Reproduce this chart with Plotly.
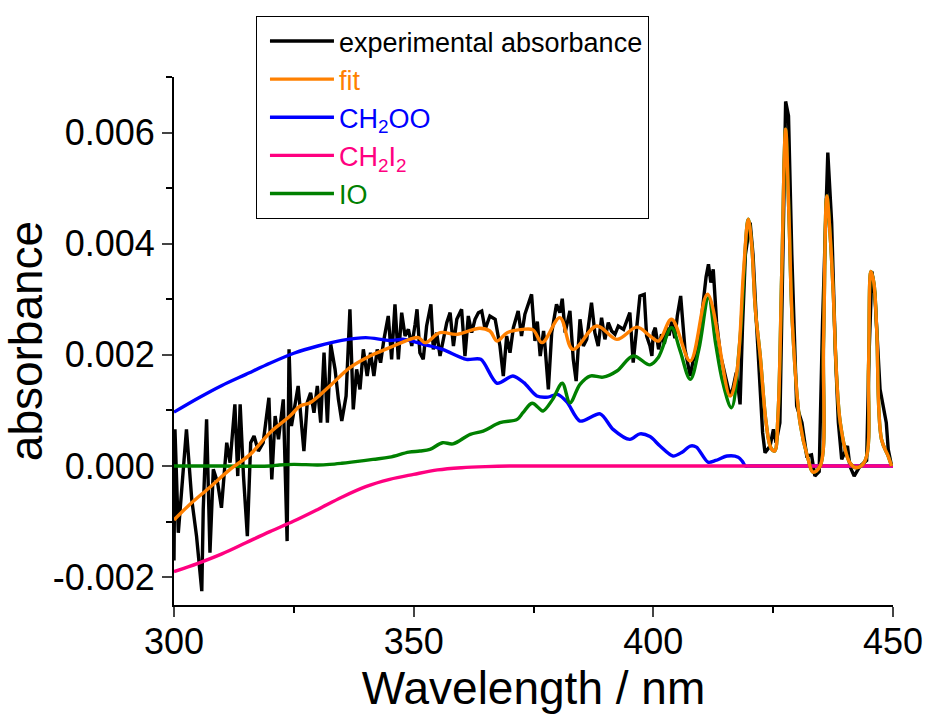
import plotly.graph_objects as go

# ---------------- data ----------------
exp_wl = [300.0, 300.2, 300.9, 302.6, 303.7, 304.7, 305.8, 306.1, 306.8, 307.5, 308.2, 309.1, 309.9,
          311.0, 311.7, 312.7, 313.3, 313.8, 314.5, 315.3, 316.0, 316.7, 317.6, 318.6, 319.8, 320.4,
          321.1, 321.8, 322.8, 323.6, 324.0, 324.5, 325.2, 325.9, 327.1, 327.8, 328.5, 329.2, 329.9,
          330.6, 331.3, 332.0, 332.7, 333.6, 334.3, 335.0, 335.9, 336.7, 337.4, 338.1, 338.8, 339.5,
          340.3, 341.0, 341.7, 342.4, 343.1, 343.8, 344.7, 345.4, 346.1, 346.8, 347.5, 348.2, 348.9,
          349.6, 350.3, 350.7, 351.3, 352.0, 352.7, 353.6, 354.1, 354.8, 355.5, 356.2, 356.9, 357.6,
          358.3, 359.0, 360.0, 360.7, 361.4, 362.1, 362.8, 363.5, 364.2, 364.9, 365.9, 367.0, 368.0,
          368.7, 369.4, 370.1, 370.8, 371.8, 372.5, 373.2, 374.6, 375.3, 375.8, 376.4, 377.1, 377.4,
          378.1, 378.8, 379.8, 380.5, 381.0, 381.6, 382.6, 383.3, 383.9, 384.7, 385.4, 386.1, 387.1,
          387.8, 388.5, 389.2, 389.9, 390.6, 391.3, 392.0, 392.7, 393.8, 394.5, 395.1, 395.8, 396.5,
          397.2, 398.1, 398.6, 399.3, 399.7, 400.0, 400.4, 401.1, 401.7, 402.3, 402.8, 403.3, 403.8,
          404.5, 405.0, 405.7, 406.6, 407.7, 408.3, 409.0, 409.7, 410.4, 411.0, 411.5, 412.0, 412.5,
          413.2, 414.0, 414.7, 415.3, 416.0, 416.6, 417.3, 417.7, 418.1, 418.6, 419.2, 420.2, 420.8,
          421.5, 422.3, 422.8, 423.3, 423.9, 424.35, 425.05, 425.6, 426.4, 427.0, 427.6, 428.2, 428.9,
          429.9, 431.0, 432.0, 433.0, 433.7, 434.6, 435.3, 436.4, 437.2, 438.0, 438.6, 439.3, 440.5,
          441.0, 441.9, 443.1, 444.5, 445.0, 445.6, 446.2, 447.3, 448.6, 449.0, 449.7]
exp_abs = [-0.0017, 0.00066, -0.0012, 0.00066, -0.0006, -0.00126, -0.00225, -0.00078, 0.00084, -0.00156,
           -0.00006, -0.0003, -0.00075, 0.00042, 0.00006, 0.00111, -0.00018, 0.00111, -0.00018, -0.00126,
           0.00042, 0.00054, 0.00027, 0.00042, 0.00123, -0.00024, 0.0009, 0.00048, 0.0012, -0.00135,
           0.0021, 0.00072, 0.00108, 0.00144, 0.00027, 0.00114, 0.00132, 0.00096, 0.00144, 0.00078,
           0.00204, 0.00078, 0.00219, 0.00174, 0.0012, 0.00081, 0.00126, 0.00282, 0.00102, 0.00174,
           0.00138, 0.0021, 0.00162, 0.00204, 0.00162, 0.0021, 0.00186, 0.00228, 0.0027, 0.00192,
           0.00291, 0.00192, 0.00276, 0.00234, 0.00246, 0.00216, 0.00255, 0.00282, 0.00204, 0.00192,
           0.00252, 0.00291, 0.0021, 0.0024, 0.00198, 0.00228, 0.00258, 0.00276, 0.00216, 0.00264,
           0.00282, 0.00198, 0.0027, 0.0024, 0.00264, 0.00276, 0.00279, 0.00246, 0.0027, 0.00264,
           0.00216, 0.00162, 0.00234, 0.00204, 0.00249, 0.00279, 0.00234, 0.00273, 0.00309, 0.00225,
           0.0026, 0.00198, 0.00243, 0.00216, 0.00138, 0.0024, 0.00291, 0.00276, 0.00301, 0.0024,
           0.00279, 0.00192, 0.00153, 0.00264, 0.00216, 0.00228, 0.00294, 0.0024, 0.00216, 0.00267,
           0.00228, 0.00258, 0.00243, 0.00237, 0.00252, 0.00246, 0.00261, 0.00276, 0.00186, 0.00252,
           0.00306, 0.00309, 0.00234, 0.00216, 0.00198, 0.0024, 0.00249, 0.0021, 0.00237, 0.0022,
           0.0025, 0.00235, 0.0026, 0.0023, 0.0027, 0.00306, 0.0021, 0.00162, 0.0019, 0.00198,
           0.0024, 0.00294, 0.0034, 0.00363, 0.0033, 0.00354, 0.00258, 0.002, 0.00174, 0.0015,
           0.00126, 0.0014, 0.00168, 0.0014, 0.00111, 0.0025, 0.0038, 0.00438, 0.0038, 0.0026,
           0.00138, 0.0006, 0.00024, 0.0003, 0.00036, 0.00066, 0.00042, 0.00078, 0.00378, 0.00656,
           0.0063, 0.00378, 0.00108, 0.00078, 0.00018, 0.0002, -0.00018, -0.0001, 0.00258, 0.00564,
           0.00438, 0.002, 0.00078, 0.00012, 0.00036, 0.0, -0.00018, 0.0, 0.0001, 0.002,
           0.0035, 0.0031, 0.00138, 0.00078, 0.0003, 0.0]

fit_wl = [300.0, 303.3, 307.5, 311.7, 315.9, 320.0, 324.2, 326.3, 328.4, 332.5, 336.7, 340.9, 345.0,
          349.2, 351.0, 352.4, 355.5, 359.0, 363.8, 365.9, 367.4, 369.5, 372.8, 374.9, 376.8, 380.5,
          383.2, 388.2, 392.4, 396.6, 399.3, 401.1, 403.8, 407.7, 411.3, 416.0, 417.4, 418.8, 419.8,
          420.5, 421.3, 422.3, 423.5, 424.5, 425.3, 426.0, 426.8, 427.6, 428.3, 429.0, 430.6, 432.3,
          433.3, 434.8, 435.5, 436.2, 437.0, 437.5, 439.0, 441.0, 442.4, 444.2, 444.9, 445.4, 446.0,
          446.6, 447.6, 449.0, 449.7]
fit_abs = [-0.00097, -0.00069, -0.00038, -0.00006, 0.00021, 0.0006, 0.0009, 0.00108, 0.00114, 0.00144,
           0.00177, 0.00198, 0.00213, 0.00228, 0.00231, 0.00222, 0.0024, 0.00237, 0.00248, 0.00243,
           0.00225, 0.0024, 0.00246, 0.00245, 0.00222, 0.00267, 0.0021, 0.00252, 0.00228, 0.0025,
           0.00234, 0.00225, 0.00264, 0.00189, 0.00309, 0.00126, 0.00168, 0.00348, 0.00444, 0.004,
           0.0028, 0.00198, 0.0008, 0.00033, 0.00027, 0.0009, 0.0035, 0.00606, 0.0045, 0.00258,
           0.00078, 0.00012, -0.00011, 0.0, 0.0022, 0.00486, 0.004, 0.00318, 0.00078, 0.00006,
           -0.00003, 0.0001, 0.0018, 0.0035, 0.0033, 0.00246, 0.00048, 0.00018, 0.0]

ch2oo_wl = [300.0, 305.0, 310.0, 315.0, 320.0, 325.0, 330.0, 335.0, 340.0, 345.0, 348.0, 352.0, 356.0,
            361.0, 364.0, 367.4, 370.7, 373.0, 375.7, 378.0, 380.0, 382.0, 384.7, 388.9, 391.6, 395.1,
            397.2, 399.3, 401.4, 404.1, 406.0, 407.7, 409.0, 411.4, 413.0, 415.4, 417.7, 418.6, 419.2,
            420.0, 425.0, 430.0, 435.0, 440.0, 445.0, 450.0]
ch2oo_abs = [0.00097, 0.00122, 0.00145, 0.00165, 0.00185, 0.00203, 0.00216, 0.00226, 0.00231, 0.00226,
             0.00228, 0.00219, 0.0021, 0.00192, 0.00192, 0.00149, 0.00162, 0.0015, 0.00126, 0.00124,
             0.00129, 0.00115, 0.00081, 0.00094, 0.00066, 0.00048, 0.00058, 0.00053, 0.00036, 0.00018,
             0.00025, 0.00036, 0.00034, 0.00007, 0.0001, 0.00018, 0.00016, 0.00008, 0.0,
             0.0, 0.0, 0.0, 0.0, 0.0, 0.0, 0.0]

ch2i2_wl = [300.0, 305.0, 310.0, 315.0, 320.0, 325.0, 330.0, 335.0, 340.0, 345.0, 350.0, 355.0, 360.0,
            365.0, 370.0, 380.0, 390.0, 400.0, 410.0, 420.0, 430.0, 440.0, 450.0]
ch2i2_abs = [-0.0019, -0.00175, -0.00158, -0.00138, -0.00118, -0.00099, -0.00078, -0.00056, -0.00037,
             -0.00024, -0.00015, -0.00007, -0.00003, -0.00001, 0.0, 0.0, 0.0, 0.0, 0.0, 0.0, 0.0, 0.0, 0.0]

io_wl = [300.0, 310.0, 320.0, 322.0, 325.0, 330.0, 332.5, 335.0, 337.0, 341.5, 345.0, 349.0, 351.3,
         353.4, 356.0, 358.2, 361.8, 364.5, 368.0, 371.6, 372.8, 374.7, 376.4, 377.0, 379.0, 381.0,
         382.6, 384.7, 386.8, 389.5, 392.4, 395.8, 399.3, 401.0, 403.8, 405.5, 407.7, 409.5, 411.5,
         413.0, 414.5, 416.3, 418.0, 419.8, 420.5, 421.3, 422.3, 423.5, 424.5, 425.3, 426.0, 426.8,
         427.6, 428.3, 429.0, 430.6, 432.3, 433.3, 434.8, 435.5, 436.2, 437.0, 437.5, 439.0, 441.0,
         442.4, 444.2, 444.9, 445.4, 446.0, 446.6, 447.6, 449.0, 449.7]
io_abs = [0.0, 0.0, 0.0, 0.00002, 0.00003, 0.00002, 0.00003, 0.00005, 0.00007, 0.00012, 0.00016,
          0.00025, 0.00027, 0.0003, 0.00042, 0.0004, 0.00057, 0.00063, 0.00078, 0.00084, 0.00096,
          0.00113, 0.00102, 0.00099, 0.0012, 0.00149, 0.00114, 0.00147, 0.00162, 0.0016, 0.00171,
          0.00198, 0.00182, 0.00195, 0.00249, 0.0021, 0.00156, 0.0021, 0.00303, 0.0022, 0.0015,
          0.00105, 0.0022, 0.00444, 0.004, 0.0028, 0.00198, 0.0008, 0.00033, 0.00027, 0.0009,
          0.0035, 0.00606, 0.0045, 0.00258, 0.00078, 0.00012, -0.00011, 0.0, 0.0022, 0.00486,
          0.004, 0.00318, 0.00078, 0.00006, -0.00003, 0.0001, 0.0018, 0.0035, 0.0033, 0.00246,
          0.00048, 0.00018, 0.0]

x_ticks = [300, 350, 400, 450]
y_ticks = [-0.002, 0.0, 0.002, 0.004, 0.006]
y_tick_text = ["-0.002", "0.000", "0.002", "0.004", "0.006"]

# ---------------- figure ----------------
FONT = "Liberation Sans, Arial, sans-serif"
C_EXP, C_FIT, C_CH2OO, C_CH2I2, C_IO = "#000000", "#FF8000", "#0000FF", "#FF0080", "#008000"
LW = 3.4

fig = go.Figure()
fig.add_trace(go.Scatter(x=exp_wl, y=exp_abs, mode="lines", name="experimental absorbance",
                         line=dict(color=C_EXP, width=LW), legendrank=1))
fig.add_trace(go.Scatter(x=ch2oo_wl, y=ch2oo_abs, mode="lines", line_shape="spline",
                         line_smoothing=0.8,
                         name=f'<span style="color:{C_CH2OO}">CH<sub>2</sub>OO</span>',
                         line=dict(color=C_CH2OO, width=LW), legendrank=3))
fig.add_trace(go.Scatter(x=ch2i2_wl, y=ch2i2_abs, mode="lines", line_shape="spline",
                         name=f'<span style="color:{C_CH2I2}">CH<sub>2</sub>I<sub>2</sub></span>',
                         line=dict(color=C_CH2I2, width=LW), legendrank=4))
fig.add_trace(go.Scatter(x=io_wl, y=io_abs, mode="lines", line_shape="spline",
                         name=f'<span style="color:{C_IO}">IO</span>',
                         line=dict(color=C_IO, width=LW), legendrank=5))
fig.add_trace(go.Scatter(x=fit_wl, y=fit_abs, mode="lines", line_shape="spline",
                         name=f'<span style="color:{C_FIT}">fit</span>',
                         line=dict(color=C_FIT, width=LW), legendrank=2))

fig.update_layout(
    width=925, height=727, autosize=False,
    margin=dict(l=174, r=32, t=77, b=122),
    paper_bgcolor="white", plot_bgcolor="white",
    font=dict(family=FONT, color="black", size=27),
    showlegend=True,
    legend=dict(x=0.114, y=1.1155, xanchor="left", yanchor="top",
                bgcolor="white", bordercolor="black", borderwidth=1,
                font=dict(family=FONT, size=27, color="black"),
                itemwidth=64, indentation=8, tracegroupgap=0),
)
fig.update_xaxes(
    range=[300, 450], tickvals=x_ticks, ticks="outside", ticklen=10, tickwidth=2,
    showline=True, linecolor="black", linewidth=2, showgrid=False, zeroline=False,
    tickfont=dict(family=FONT, size=36), automargin=False, ticklabelstandoff=-6,
    minor=dict(dtick=25, tick0=300, ticks="outside", ticklen=6, tickwidth=2, tickcolor="black", showgrid=False),
    title=dict(text="Wavelength / nm", font=dict(family=FONT, size=46), standoff=10),
)
fig.update_yaxes(
    range=[-0.0025, 0.007], tickvals=y_ticks, ticktext=y_tick_text, ticks="outside", ticklen=10,
    tickwidth=2, showline=True, linecolor="black", linewidth=2, showgrid=False, zeroline=False,
    tickfont=dict(family=FONT, size=36), automargin=False,
    minor=dict(dtick=0.001, tick0=0, ticks="outside", ticklen=6, tickwidth=2, tickcolor="black", showgrid=False),
    title=dict(text="absorbance", font=dict(family=FONT, size=46), standoff=0),
)

# remove the browser's default 8 px page margin so the 925x727 figure fills the window exactly
fig.write_html("out.html", config={"displayModeBar": False},
               post_script="document.body.style.margin='0px';"
                           "document.body.style.overflow='hidden';")
